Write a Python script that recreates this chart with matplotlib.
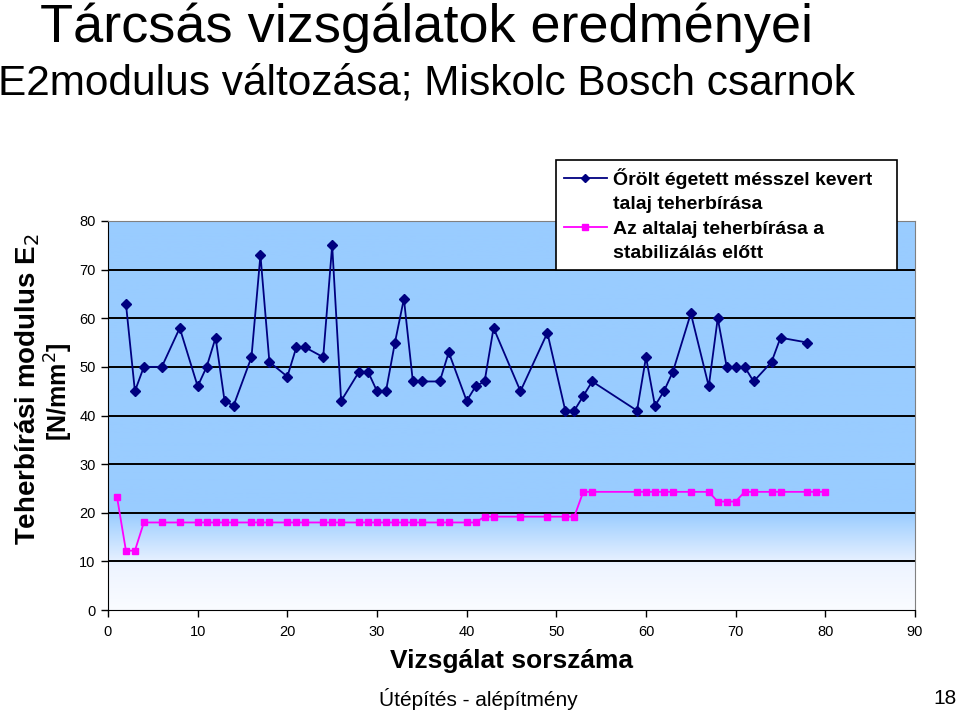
import numpy as np
import matplotlib
matplotlib.use("Agg")
import matplotlib.pyplot as plt
from matplotlib.lines import Line2D

# data
x_orolt = [2, 3, 4, 6, 8, 10, 11, 12, 13, 14, 16, 17, 18, 20, 21, 22, 24, 25, 26, 28,
           29, 30, 31, 32, 33, 34, 35, 37, 38, 40, 41, 42, 43, 46, 49, 51, 52, 53, 54,
           59, 60, 61, 62, 63, 65, 67, 68, 69, 70, 71, 72, 74, 75, 78]
y_orolt = [63, 45, 50, 50, 58, 46, 50, 56, 43, 42, 52, 73, 51, 48, 54, 54, 52, 75, 43, 49,
           49, 45, 45, 55, 64, 47, 47, 47, 53, 43, 46, 47, 58, 45, 57, 41, 41, 44, 47,
           41, 52, 42, 45, 49, 61, 46, 60, 50, 50, 50, 47, 51, 56, 55]

x_altalaj = [1, 2, 3, 4, 6, 8, 10, 11, 12, 13, 14, 16, 17, 18, 20, 21, 22, 24, 25, 26,
             28, 29, 30, 31, 32, 33, 34, 35, 37, 38, 40, 41, 42, 43, 46, 49, 51, 52, 53,
             54, 59, 60, 61, 62, 63, 65, 67, 68, 69, 70, 71, 72, 74, 75, 78, 79, 80]
y_altalaj = [23.3, 12.2, 12.2] + [18.0] * 29 + [19.2] * 6 + [24.3] * 9 + [22.3] * 3 + [24.3] * 7

legend_lines = ["Őrölt égetett mésszel kevert", "talaj teherbírása",
                "Az altalaj teherbírása a", "stabilizálás előtt"]

arial = ["Liberation Sans", "DejaVu Sans"]

fig = plt.figure(figsize=(9.6, 7.13), dpi=100)
ax = fig.add_axes([108 / 960, 103 / 713, 807 / 960, 389 / 713])

# gradient plot-area background
yy = np.linspace(0, 80, 400)
cols = np.stack([np.interp(yy, [0, 9, 20, 80], c) for c in
                 ([250, 238, 153, 153], [252, 244, 204, 204], [255, 255, 255, 255])], axis=1) / 255
ax.imshow(cols[:, None, :], extent=[0, 90, 0, 80], origin="lower", aspect="auto", zorder=0)

for v in range(10, 80, 10):
    ax.axhline(v, color="black", lw=1.4, zorder=1)

ax.plot(x_orolt, y_orolt, color="#000080", lw=1.3, marker="D", ms=5.5, zorder=3)
ax.plot(x_altalaj, y_altalaj, color="#FF00FF", lw=1.3, marker="s", ms=4.6, zorder=3)

ax.set_xlim(0, 90)
ax.set_ylim(0, 80)
ax.set_xticks(range(0, 91, 10))
ax.set_yticks(range(0, 81, 10))
ax.tick_params(direction="out", length=5, width=1, labelsize=10.5)
ax.tick_params(axis="x", pad=6)
ax.tick_params(axis="y", pad=4)
for lab in ax.get_xticklabels() + ax.get_yticklabels():
    lab.set_family(arial)
ax.spines["left"].set_color("black")
ax.spines["bottom"].set_color("black")
ax.spines["top"].set_color("#808080")
ax.spines["right"].set_color("#808080")

ax.set_xlabel("Vizsgálat sorszáma", family=arial, fontsize=19, fontweight="bold", labelpad=7)

blank = Line2D([], [], linestyle="none")
h1 = Line2D([], [], color="#000080", lw=1.3, marker="D", ms=4)
h2 = Line2D([], [], color="#FF00FF", lw=1.3, marker="s", ms=4)
leg = fig.legend([h1, blank, h2, blank], legend_lines,
                 loc="upper left", mode="expand",
                 bbox_to_anchor=(556 / 960, 1 - 272 / 713, 341 / 960, 112 / 713),
                 prop={"family": arial, "weight": "bold", "size": 14},
                 frameon=True, fancybox=False, edgecolor="black", framealpha=1,
                 borderaxespad=0, labelspacing=0.36, handlelength=2.2, handletextpad=0.35,
                 borderpad=0.4)
leg.get_frame().set_linewidth(1.2)

# titles and labels
fig.text(426 / 960, 1 - 42 / 713, "Tárcsás vizsgálatok eredményei", ha="center", va="baseline",
         family=arial, fontsize=39)
fig.text(427 / 960, 1 - 95 / 713, "E2modulus változása; Miskolc Bosch csarnok", ha="center",
         va="baseline", family=arial, fontsize=30.5)
fig.text(28 / 960, 1 - 389 / 713, "Teherbírási modulus E$_2$", rotation=90, ha="center",
         va="center", family=arial, fontsize=20, fontweight="bold")
fig.text(59 / 960, 1 - 392 / 713, "[N/mm$^2$]", rotation=90, ha="center", va="center",
         family=arial, fontsize=18, fontweight="bold")
fig.text(478 / 960, 1 - 699 / 713, "Útépítés - alépítmény", ha="center", va="center",
         family=arial, fontsize=15)
fig.text(957 / 960, 1 - 699 / 713, "18", ha="right", va="center", family=arial, fontsize=15)

fig.savefig("out.png", dpi=100)
